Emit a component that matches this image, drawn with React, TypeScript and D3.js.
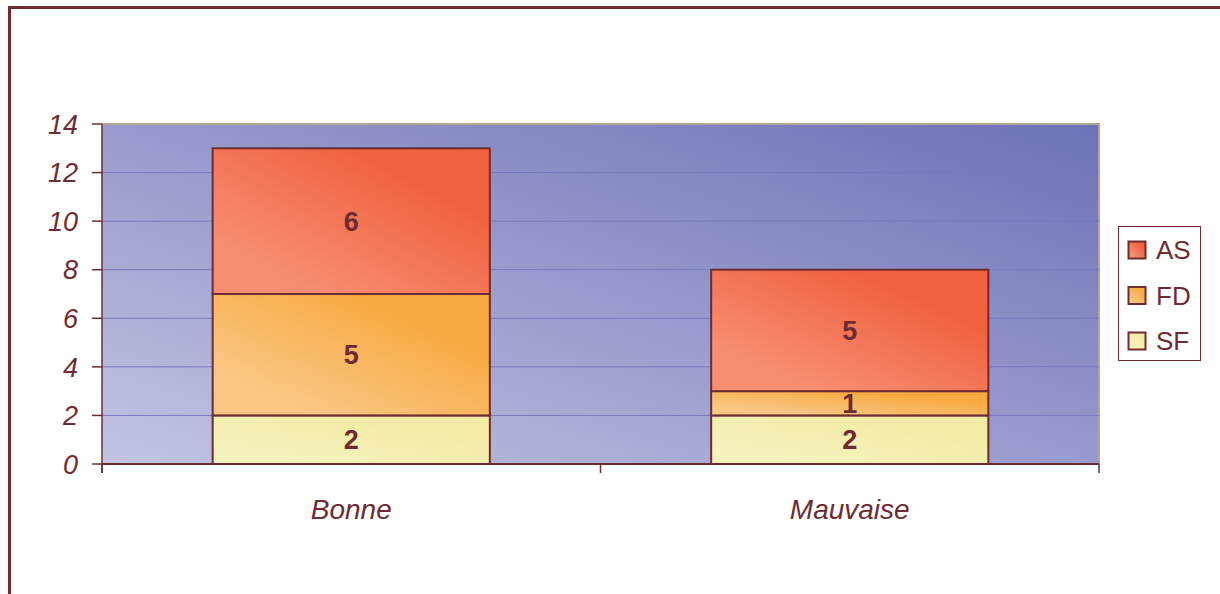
import React from "react";
import * as d3 from "d3";

const categories = ["Bonne", "Mauvaise"];
const seriesNames = ["SF", "FD", "AS"];
const sfValues = [2, 2];
const fdValues = [5, 1];
const asValues = [6, 5];
const yTicks = [0, 2, 4, 6, 8, 10, 12, 14];
const legendOrder = ["AS", "FD", "SF"];

const W = 1220;
const H = 594;
const plot = { left: 102, top: 124, right: 1099, bottom: 464 };
const ink = "#6e2c30";
const font = "Liberation Sans, Arial, sans-serif";

const gradStops: Record<string, [string, string]> = {
  AS: ["#f78d72", "#f0623f"],
  FD: ["#f9c683", "#f8aa42"],
  SF: ["#f6f2bd", "#f3eba6"],
};

export default function App() {
  const x = d3
    .scaleBand<string>()
    .domain(categories)
    .range([plot.left, plot.right])
    .paddingInner(0.444)
    .paddingOuter(0.222);
  const y = d3.scaleLinear().domain([0, 14]).range([plot.bottom, plot.top]);

  const rows = categories.map((c, i) => ({
    cat: c,
    SF: sfValues[i],
    FD: fdValues[i],
    AS: asValues[i],
  }));
  const stacked = d3.stack<any>().keys(seriesNames)(rows);

  const catBoundaries = [plot.left, (plot.left + plot.right) / 2, plot.right];

  return (
    <svg width={W} height={H} style={{ display: "block", position: "absolute", left: 0, top: 0 }}>
      <defs>
        <linearGradient id="bg" x1="0" y1="1" x2="1" y2="0">
          <stop offset="0" stopColor="#c2c4e2" />
          <stop offset="1" stopColor="#6d71b7" />
        </linearGradient>
        {seriesNames.map((s) => (
          <linearGradient key={s} id={`g-${s}`} x1="0" y1="1" x2="1" y2="0">
            <stop offset="0.2" stopColor={gradStops[s][0]} />
            <stop offset="0.75" stopColor={gradStops[s][1]} />
          </linearGradient>
        ))}
      </defs>
      <rect x={0} y={0} width={W} height={H} fill="#ffffff" />
      {/* outer chart frame */}
      <rect x={9.5} y={7.5} width={W + 20} height={H + 20} fill="none" stroke={ink} strokeWidth={3} />

      {/* plot area */}
      <rect
        x={plot.left}
        y={plot.top}
        width={plot.right - plot.left}
        height={plot.bottom - plot.top}
        fill="url(#bg)"
      />
      <line x1={plot.left} x2={plot.right + 1} y1={plot.top} y2={plot.top} stroke="#b4a595" strokeWidth={2} />
      <line x1={plot.right} x2={plot.right} y1={plot.top} y2={plot.bottom} stroke="#b4a595" strokeWidth={2} />

      {/* gridlines */}
      {yTicks.slice(1, -1).map((t) => (
        <line key={t} x1={plot.left} x2={plot.right} y1={y(t)} y2={y(t)} stroke="#7679bd" strokeWidth={1} />
      ))}

      {/* bars */}
      {stacked.map((layer) =>
        layer.map((d, i) => {
          const x0 = x(categories[i])!;
          const y0 = y(d[1]);
          const h = y(d[0]) - y(d[1]);
          const v = d[1] - d[0];
          return (
            <g key={layer.key + i}>
              <rect
                x={x0}
                y={y0}
                width={x.bandwidth()}
                height={h}
                fill={`url(#g-${layer.key})`}
                stroke={ink}
                strokeWidth={2}
              />
              <text
                x={x0 + x.bandwidth() / 2}
                y={y0 + h / 2}
                dy="0.36em"
                textAnchor="middle"
                fontFamily={font}
                fontWeight="bold"
                fontSize={27}
                fill={ink}
              >
                {v}
              </text>
            </g>
          );
        })
      )}

      {/* axes */}
      <line x1={plot.left} x2={plot.left} y1={plot.top} y2={plot.bottom + 9} stroke={ink} strokeWidth={1.5} />
      <line x1={plot.left} x2={plot.right} y1={plot.bottom} y2={plot.bottom} stroke={ink} strokeWidth={2} />
      {yTicks.map((t) => (
        <g key={t}>
          <line x1={plot.left - 10} x2={plot.left} y1={y(t)} y2={y(t)} stroke={ink} strokeWidth={1.5} />
          <text
            x={78}
            y={y(t)}
            dy="0.36em"
            textAnchor="end"
            fontFamily={font}
            fontStyle="italic"
            fontSize={27}
            fill={ink}
          >
            {t}
          </text>
        </g>
      ))}
      {catBoundaries.map((bx, i) => (
        <line key={i} x1={bx} x2={bx} y1={plot.bottom} y2={plot.bottom + 9} stroke={ink} strokeWidth={1.5} />
      ))}
      {categories.map((c) => (
        <text
          key={c}
          x={x(c)! + x.bandwidth() / 2}
          y={509}
          dy="0.36em"
          textAnchor="middle"
          fontFamily={font}
          fontStyle="italic"
          fontSize={28}
          fill={ink}
        >
          {c}
        </text>
      ))}

      {/* legend */}
      <rect x={1118.5} y={226.5} width={82} height={134} fill="#ffffff" stroke={ink} strokeWidth={1} />
      {legendOrder.map((s, i) => {
        const cy = 250 + i * 45.5;
        return (
          <g key={s}>
            <rect x={1128.5} y={cy - 8.5} width={17} height={17} fill={`url(#g-${s})`} stroke={ink} strokeWidth={2} />
            <text x={1156} y={cy} dy="0.36em" fontFamily={font} fontSize={26} fill={ink}>
              {s}
            </text>
          </g>
        );
      })}
    </svg>
  );
}
